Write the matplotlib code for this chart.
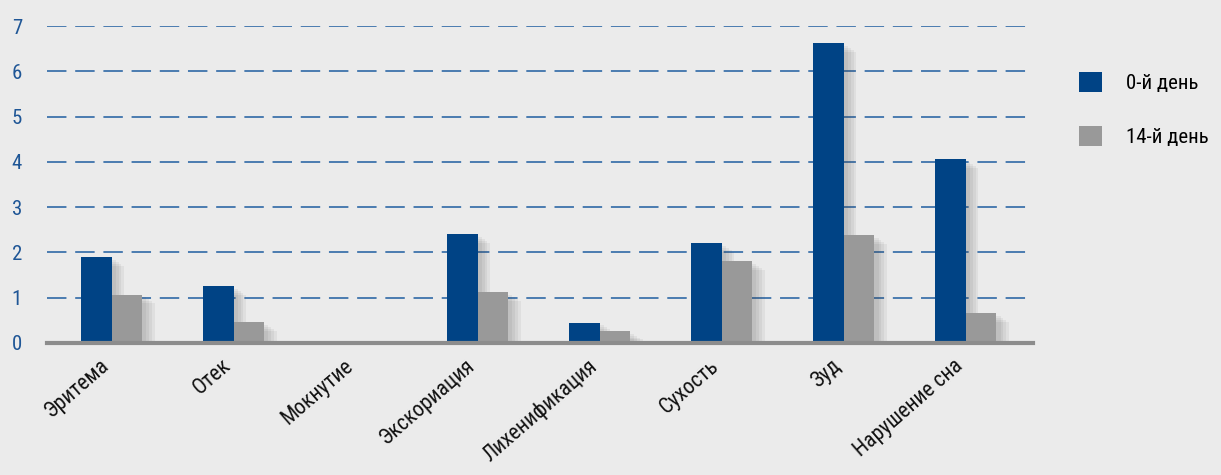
import matplotlib
matplotlib.use("Agg")
import matplotlib.pyplot as plt
import matplotlib.patheffects as pe
import numpy as np
from matplotlib import font_manager

categories = ["Эритема", "Отек", "Мокнутие", "Экскориация", "Лихенификация",
              "Сухость", "Зуд", "Нарушение сна"]
day0 = [1.9, 1.25, 0.0, 2.4, 0.45, 2.2, 6.62, 4.06]
day14 = [1.07, 0.46, 0.0, 1.13, 0.27, 1.8, 2.38, 0.66]
series_labels = ["0-й день", "14-й день"]
yticks = [0, 1, 2, 3, 4, 5, 6, 7]

names = {f.name for f in font_manager.fontManager.ttflist}
fam = []
for n in ["Liberation Sans Narrow", "Roboto Condensed", "DejaVu Sans Condensed", "Roboto", "DejaVu Sans"]:
    if n in names:
        fam.append(n)
plt.rcParams['font.family'] = fam + ["DejaVu Sans"]

bg = "#ebebeb"
blue = "#004385"
gray = "#999999"

fig = plt.figure(figsize=(12.21, 4.75), dpi=100, facecolor=bg)
ax = fig.add_axes([0.0385, 0.278, 0.8075, 0.667], facecolor=bg)

x = np.arange(len(categories))
w = 0.25
shadow = [pe.SimplePatchShadow(offset=(o, -o * 0.7), shadow_rgbFace="#444444", alpha=0.07)
          for o in (9, 7, 5, 3)] + [pe.Normal()]
b0 = ax.bar(x - w / 2, day0, w, color=blue, label=series_labels[0], zorder=3)
b1 = ax.bar(x + w / 2, day14, w, color=gray, label=series_labels[1], zorder=3)
for b in list(b0) + list(b1):
    b.set_path_effects(shadow)

ax.set_ylim(0, 7)
ax.set_xlim(-0.53, 7.55)
ax.set_yticks(yticks)
ax.set_yticklabels([str(t) for t in yticks], fontsize=15, color="#1f5696")
ax.tick_params(axis='y', length=0, pad=18)
ax.tick_params(axis='x', length=0, pad=9)
for t in yticks[1:]:
    ax.axhline(t, color="#4a7bb0", lw=1.4, dashes=(10, 4.5), zorder=1)
ax.axhline(0, color="#8c8c8c", lw=3, zorder=4, clip_on=False)
for s in ax.spines.values():
    s.set_visible(False)

ax.set_xticks(x - 0.1)
ax.set_xticklabels(categories, rotation=41, ha='right', va='top',
                   rotation_mode='anchor', fontsize=15.5, color="#111111")

leg = fig.legend(handles=[b0, b1], labels=series_labels, loc='upper left',
                 bbox_to_anchor=(0.884, 0.848), frameon=False, fontsize=15,
                 handlelength=1.1, handleheight=1.1, labelspacing=1.55,
                 handletextpad=1.15, borderaxespad=0, borderpad=0)
for h in leg.legend_handles:
    h.set_path_effects([])

fig.savefig("out.png", dpi=100, facecolor=bg)
